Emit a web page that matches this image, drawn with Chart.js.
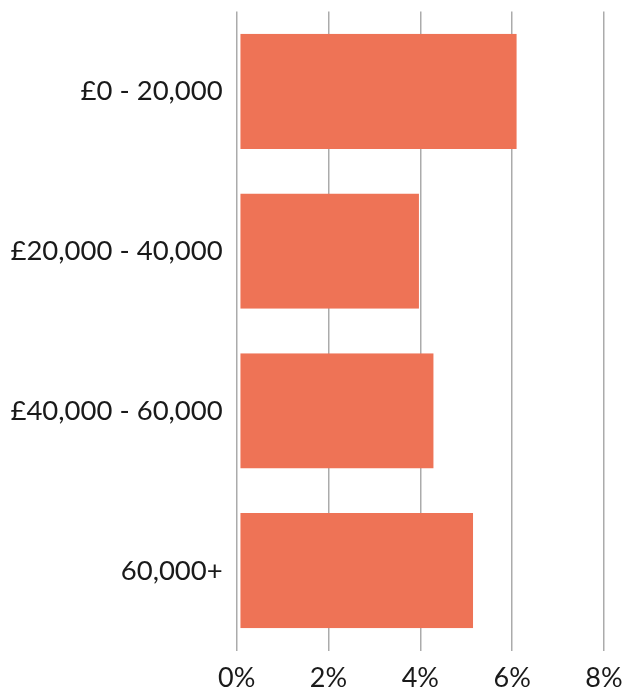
<!DOCTYPE html>
<html>
<head>
<meta charset="utf-8">
<script src="https://cdn.jsdelivr.net/npm/chart.js@4/dist/chart.umd.min.js"></script>
<style>
  html, body { margin: 0; padding: 0; background: #fff; }
  #wrap { width: 627px; height: 695px; position: relative; }
</style>
</head>
<body>
<div id="wrap"><canvas id="c"></canvas></div>
<script>
const categories = ["£0 - 20,000", "£20,000 - 40,000", "£40,000 - 60,000", "60,000+"];
const values = [6.1, 3.97, 4.29, 5.15];
const xTicks = [0, 2, 4, 6, 8];

const FONT = "Lato, 'Open Sans', sans-serif";

new Chart(document.getElementById('c'), {
  type: 'bar',
  data: {
    labels: categories,
    datasets: [{
      data: values,
      backgroundColor: 'rgb(238,115,86)',
      borderColor: 'rgba(0,0,0,0)',
      borderWidth: { left: 3, right: 0, top: 0, bottom: 0 },
      borderSkipped: false,
      barPercentage: 0.72,
      categoryPercentage: 1
    }]
  },
  options: {
    indexAxis: 'y',
    responsive: true,
    maintainAspectRatio: false,
    animation: false,
    layout: { padding: { top: 11.5, right: 23, bottom: 0, left: 0 } },
    plugins: { legend: { display: false }, tooltip: { enabled: false } },
    scales: {
      x: {
        min: 0, max: 8,
        afterBuildTicks: (s) => { s.ticks = xTicks.map(v => ({ value: v })); },
        afterFit: (s) => { s.height = 44.5; s.paddingLeft = 0; s.paddingRight = 0; },
        grid: { color: '#ababab', lineWidth: 1.5, drawTicks: false },
        border: { display: false },
        ticks: {
          padding: 12,
          color: '#1a1a1a',
          font: { family: FONT, size: 27 },
          callback: (v) => v + '%'
        }
      },
      y: {
        afterFit: (s) => { s.width = 236.7; s.paddingTop = 0; s.paddingBottom = 0; },
        grid: { display: false, drawTicks: false },
        border: { display: false },
        ticks: {
          padding: 14,
          color: '#1a1a1a',
          font: { family: FONT, size: 27.5 }
        }
      }
    }
  }
});
</script>
</body>
</html>
